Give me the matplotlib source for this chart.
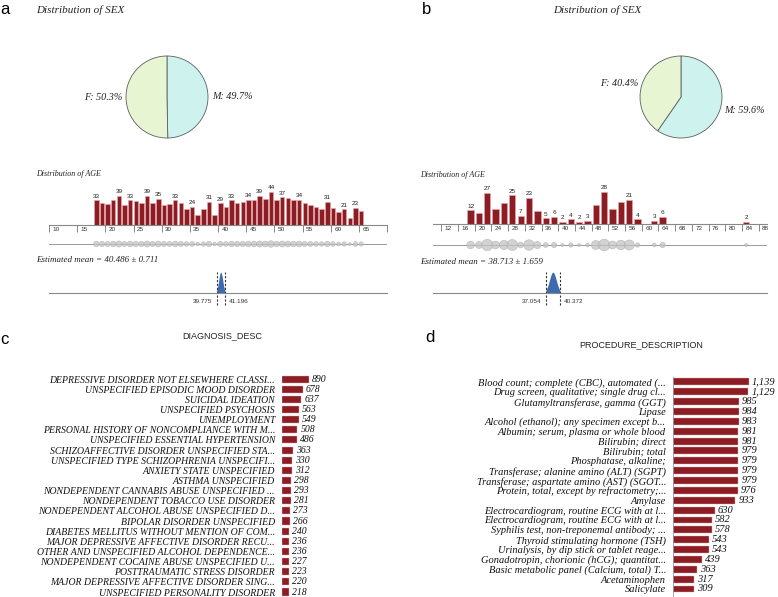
import numpy as np
import matplotlib
matplotlib.use('Agg')
import matplotlib.pyplot as plt

W, H = 778, 597
SERIF = ['Liberation Serif', 'DejaVu Serif']
SANS = ['Liberation Sans', 'DejaVu Sans']
RED = '#8c1d24'
EDGE = '#e9a9a9'

# ---- data ----
sex_cats = ['M', 'F']
sex_pct_a = [49.7, 50.3]
sex_pct_b = [59.6, 40.4]
sex_colors = ['#cef3ef', '#e7f5d3']

age_a = list(range(18, 66))
count_a = [33, 30, 28, 33, 39, 27, 33, 32, 30, 39, 30, 35, 27, 28, 33, 29,
           22, 24, 14, 21, 31, 14, 29, 24, 33, 30, 31, 34, 34, 39, 35, 44,
           33, 37, 36, 33, 34, 29, 27, 24, 21, 31, 23, 17, 21, 10, 23, 19]
shown_a = [18, 22, 24, 27, 29, 32, 35, 38, 40, 42, 45, 47, 49, 51, 54, 59, 62, 64]

age_b = [18, 20, 22, 24, 26, 28, 30, 32, 34, 36, 38, 40, 42, 44, 46, 48,
         50, 52, 54, 56, 58, 62, 64, 84]
count_b = [12, 10, 27, 13, 18, 25, 7, 23, 11, 5, 6, 2, 4, 2, 3, 17,
           28, 13, 19, 21, 4, 3, 6, 2]
shown_b = [18, 22, 28, 30, 32, 36, 38, 40, 42, 44, 46, 50, 56, 58, 62, 64, 84]

mean_a, se_a, ci_a = 40.486, 0.711, (39.775, 41.196)
mean_b, se_b, ci_b = 38.713, 1.659, (37.054, 40.372)

diag_names = [
    'DEPRESSIVE DISORDER NOT ELSEWHERE CLASSI...',
    'UNSPECIFIED EPISODIC MOOD DISORDER',
    'SUICIDAL IDEATION',
    'UNSPECIFIED PSYCHOSIS',
    'UNEMPLOYMENT',
    'PERSONAL HISTORY OF NONCOMPLIANCE WITH M...',
    'UNSPECIFIED ESSENTIAL HYPERTENSION',
    'SCHIZOAFFECTIVE DISORDER UNSPECIFIED STA...',
    'UNSPECIFIED TYPE SCHIZOPHRENIA UNSPECIFI...',
    'ANXIETY STATE UNSPECIFIED',
    'ASTHMA UNSPECIFIED',
    'NONDEPENDENT CANNABIS ABUSE UNSPECIFIED ...',
    'NONDEPENDENT TOBACCO USE DISORDER',
    'NONDEPENDENT ALCOHOL ABUSE UNSPECIFIED D...',
    'BIPOLAR DISORDER UNSPECIFIED',
    'DIABETES MELLITUS WITHOUT MENTION OF COM...',
    'MAJOR DEPRESSIVE AFFECTIVE DISORDER RECU...',
    'OTHER AND UNSPECIFIED ALCOHOL DEPENDENCE...',
    'NONDEPENDENT COCAINE ABUSE UNSPECIFIED U...',
    'POSTTRAUMATIC STRESS DISORDER',
    'MAJOR DEPRESSIVE AFFECTIVE DISORDER SING...',
    'UNSPECIFIED PERSONALITY DISORDER',
]
diag_vals = [890, 678, 637, 563, 549, 508, 486, 363, 330, 312, 298, 293,
             281, 273, 266, 240, 236, 236, 227, 223, 220, 218]

proc_names = [
    'Blood count; complete (CBC), automated (...',
    'Drug screen, qualitative; single drug cl...',
    'Glutamyltransferase, gamma (GGT)',
    'Lipase',
    'Alcohol (ethanol); any specimen except b...',
    'Albumin; serum, plasma or whole blood',
    'Bilirubin; direct',
    'Bilirubin; total',
    'Phosphatase, alkaline;',
    'Transferase; alanine amino (ALT) (SGPT)',
    'Transferase; aspartate amino (AST) (SGOT...',
    'Protein, total, except by refractometry;...',
    'Amylase',
    'Electrocardiogram, routine ECG with at l...',
    'Electrocardiogram, routine ECG with at l...',
    'Syphilis test, non-treponemal antibody; ...',
    'Thyroid stimulating hormone (TSH)',
    'Urinalysis, by dip stick or tablet reage...',
    'Gonadotropin, chorionic (hCG); quantitat...',
    'Basic metabolic panel (Calcium, total) T...',
    'Acetaminophen',
    'Salicylate',
]
proc_vals = [1139, 1129, 985, 984, 983, 981, 981, 979, 979, 979, 979, 976,
             933, 630, 582, 578, 543, 543, 439, 363, 317, 309]

fig = plt.figure(figsize=(W / 100, H / 100), dpi=100)


def box(x0, y0, x1, y1):
    return [x0 / W, 1 - y1 / H, (x1 - x0) / W, (y1 - y0) / H]


def ftext(x, y, s, **kw):
    kw.setdefault('va', 'center')
    fig.text(x / W, 1 - y / H, s, **kw)


def clean(ax):
    for sp in ax.spines.values():
        sp.set_visible(False)
    ax.set_xticks([])
    ax.set_yticks([])
    ax.patch.set_alpha(0)


def draw_pie(cx, cy, r, pcts):
    k = 1.05
    ax = fig.add_axes(box(cx - r * k, cy - r * k, cx + r * k, cy + r * k))
    labels = ['%s: %s%%' % (c, p) for c, p in zip(sex_cats, pcts)]
    ax.pie(pcts, labels=labels, colors=sex_colors, startangle=90,
           counterclock=False, radius=1, labeldistance=1.1,
           wedgeprops=dict(edgecolor='#5a6060', linewidth=0.6),
           textprops=dict(family=SERIF, style='italic', fontsize=7.3, color='#222'))
    ax.set_xlim(-k, k)
    ax.set_ylim(-k, k)


def draw_hist(x0, x1, base, xlim, ages, counts, shown, width, shift, ymax, ticks, end_ticks):
    ax = fig.add_axes(box(x0, base - 45, x1, base))
    left = np.array(ages) + shift
    ax.bar(left, counts, width=width, align='edge', color=RED, edgecolor=EDGE, linewidth=0.4)
    for a, c in zip(ages, counts):
        if a in shown:
            ax.annotate(str(c), (a + shift + width / 2, c), xytext=(0, 1.2),
                        textcoords='offset points', ha='center', va='bottom',
                        fontsize=4.6, family=SANS, color='#222')
    ax.set_xlim(xlim)
    ax.set_ylim(0, ymax)
    for sp in ['top', 'right', 'left']:
        ax.spines[sp].set_visible(False)
    ax.spines['bottom'].set_color('#888')
    ax.spines['bottom'].set_linewidth(0.8)
    ax.set_yticks([])
    ax.set_xticks(list(ticks) + list(end_ticks))
    ax.set_xticklabels([])
    ax.tick_params(axis='x', length=5, width=0.7, color='#888')
    for t in ticks:
        ax.annotate(str(t), (t, 0), xycoords=('data', 'axes fraction'), xytext=(2.5, -1.5),
                    textcoords='offset points', ha='left', va='top',
                    fontsize=4.6, family=SANS, color='#333')
    ax.patch.set_alpha(0)


def draw_strip(x0, x1, y, xlim, ages, counts, shift, k):
    ax = fig.add_axes(box(x0, y - 6, x1, y + 6))
    clean(ax)
    ax.set_xlim(xlim)
    ax.set_ylim(-1, 1)
    ax.axhline(0, color='#999', lw=0.7)
    total = float(sum(counts))
    ax.scatter(np.array(ages) + shift, np.zeros(len(ages)),
               s=[k * c / total for c in counts], color='#c4c4c4', alpha=0.75,
               edgecolors='#aaaaaa', linewidths=0.4, clip_on=False, zorder=3)


def draw_mean(x0, x1, base, xlim, m, se, ci):
    ax = fig.add_axes(box(x0, base - 25, x1, base))
    for sp in ['top', 'right', 'left']:
        ax.spines[sp].set_visible(False)
    ax.spines['bottom'].set_color('#888')
    ax.spines['bottom'].set_linewidth(0.8)
    ax.set_xticks([])
    ax.set_yticks([])
    ax.patch.set_alpha(0)
    xs = np.linspace(ci[0], ci[1], 200)
    ys = np.exp(-0.5 * ((xs - m) / (se / 2.0)) ** 2)
    ax.fill_between(xs, 0, ys, color='#3d6cae', lw=0)
    ax.set_xlim(xlim)
    ax.set_ylim(0, 1.2)
    for v in ci:
        ax.axvline(v, ymin=-0.48, ymax=0.84, color='#333', lw=0.8,
                   linestyle=(0, (2, 1.5)), clip_on=False)
    ax.annotate('%.3f' % ci[0], (ci[0], 0), xytext=(-3.2, -5.8), textcoords='offset points',
                ha='right', va='center', fontsize=4.6, family=SANS, color='#333')
    ax.annotate('%.3f' % ci[1], (ci[1], 0), xytext=(3.2, -5.8), textcoords='offset points',
                ha='left', va='center', fontsize=4.6, family=SANS, color='#333')


def draw_hbar(x0, top, row_h, nbox, xmax, names, vals, spine, fs):
    ax = fig.add_axes(box(x0, top, x0 + 100, top + row_h * nbox))
    y = np.arange(len(names))
    ax.barh(y, vals, height=0.7, color=RED, edgecolor=EDGE, linewidth=0.3)
    ax.set_ylim(nbox - 0.5, -0.5)
    ax.set_xlim(0, xmax)
    ax.set_yticks(y)
    ax.set_yticklabels(names, family=SERIF, style='italic', fontsize=fs, color='#111')
    ax.tick_params(axis='y', length=0, pad=5)
    ax.set_xticks([])
    for sp in ['top', 'right', 'bottom']:
        ax.spines[sp].set_visible(False)
    ax.spines['left'].set_visible(spine)
    ax.spines['left'].set_color('#999')
    ax.spines['left'].set_linewidth(0.6)
    for yi, v in zip(y, vals):
        ax.annotate('{:,}'.format(v), (v, yi), xytext=(2.2, 0), textcoords='offset points',
                    ha='left', va='center', family=SERIF, style='italic',
                    fontsize=fs, color='#111')
    ax.patch.set_alpha(0)


# ---- panel a ----
ftext(0, 10, 'a', fontsize=12, family=SANS, ha='left')
ftext(36, 10, 'Distribution of SEX', fontsize=8, family=SERIF, style='italic', ha='left', color='#222')
draw_pie(167, 97, 41, sex_pct_a)
ftext(36, 174, 'Distribution of AGE', fontsize=5.8, family=SERIF, style='italic', ha='left', color='#222')
draw_hist(49, 387, 225, (10, 70), age_a, count_a, shown_a, 0.8, 0.0, 60,
          range(10, 70, 5), [70])
draw_strip(49, 387, 244, (10, 70), age_a, count_a, 0.4, 700)
ftext(36, 260, 'Estimated mean = %.3f \u00b1 %.3f' % (mean_a, se_a), fontsize=6.5,
      family=SERIF, style='italic', ha='left', color='#222')
draw_mean(49, 387, 293, (10, 70), mean_a, se_a, ci_a)

# ---- panel b ----
ftext(422, 9, 'b', fontsize=12, family=SANS, ha='left')
ftext(597, 10, 'Distribution of SEX', fontsize=8, family=SERIF, style='italic', ha='center', color='#222')
draw_pie(681, 97, 41, sex_pct_b)
ftext(420, 175, 'Distribution of AGE', fontsize=5.8, family=SERIF, style='italic', ha='left', color='#222')
draw_hist(433, 767, 224, (10, 90), age_b, count_b, shown_b, 1.5, 0.25, 39.4,
          range(12, 90, 4), [])
draw_strip(433, 767, 245, (10, 90), age_b, count_b, 1.0, 700)
ftext(420, 262, 'Estimated mean = %.3f \u00b1 %.3f' % (mean_b, se_b), fontsize=6.5,
      family=SERIF, style='italic', ha='left', color='#222')
draw_mean(433, 767, 293, (10, 90), mean_b, se_b, ci_b)

# ---- panel c ----
ftext(0, 339, 'c', fontsize=12, family=SANS, ha='left')
ftext(222, 336, 'DIAGNOSIS_DESC', fontsize=6.5, family=SANS, ha='center', color='#222')
draw_hbar(282, 374, 10.14, 22, 100 / 0.0305, diag_names, diag_vals, False, 7.0)

# ---- panel d ----
ftext(425, 338, 'd', fontsize=12, family=SANS, ha='left')
ftext(641, 345, 'PROCEDURE_DESCRIPTION', fontsize=6.5, family=SANS, ha='center', color='#222')
draw_hbar(673, 377, 9.86, 23, 100 / 0.0667, proc_names, proc_vals, True, 7.5)

fig.savefig('out.png', dpi=100)
